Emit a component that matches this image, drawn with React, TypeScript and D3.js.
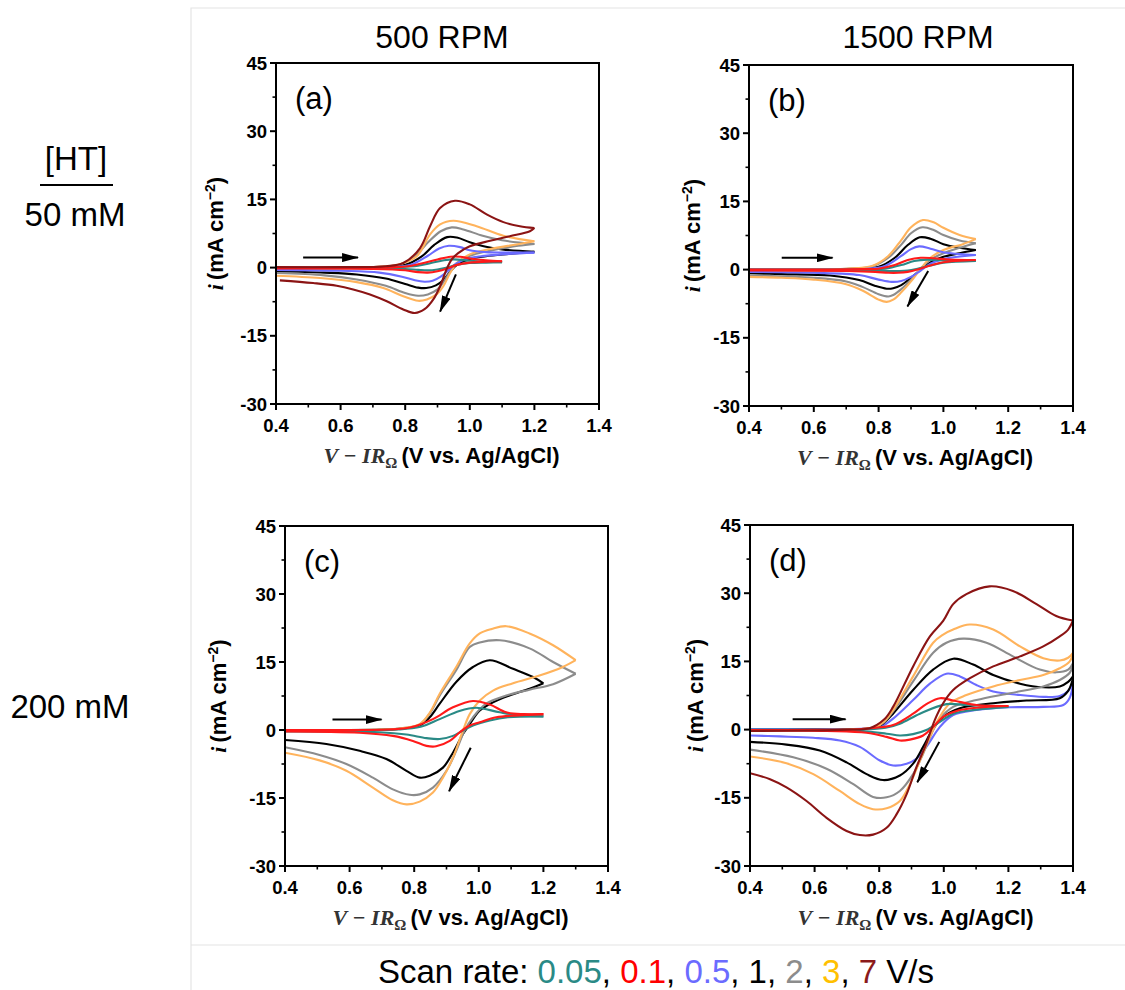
import React from "react";
import * as d3 from "d3";

type Pt = [number, number];

// ---------- labels / categories ----------
const scanRates = ["0.05", "0.1", "0.5", "1", "2", "3", "7"];
const curveColors = ["#2a8a86", "#ff1a1a", "#6b6bff", "#000000", "#8c8c8c", "#ffb35c", "#8b1414"];
const legendColors = ["#2a8a86", "#ff0000", "#6b6bff", "#000000", "#8c8c8c", "#ffc000", "#8b1a1a"];
const xTicks = [0.4, 0.6, 0.8, 1.0, 1.2, 1.4];
const xMinor = [0.5, 0.7, 0.9, 1.1, 1.3];
const yTicks = [-30, -15, 0, 15, 30, 45];
const yMinor = [-22.5, -7.5, 7.5, 22.5, 37.5];
const panelLabels = ["(a)", "(b)", "(c)", "(d)"];
const columnTitles = ["500 RPM", "1500 RPM"];
const rowLabels = ["50 mM", "200 mM"];

// ---------- Panel (a): 500 RPM, 50 mM  (forward f / reverse r) ----------
const A005f: Pt[] = [[0.4,0],[0.6,0],[0.78,0.1],[0.84,0.4],[0.88,1.0],[0.92,1.6],[0.95,1.8],[1.0,1.5],[1.05,1.3],[1.1,1.2]];
const A005r: Pt[] = [[1.1,1.2],[1.05,1.1],[1.0,1.0],[0.96,0.6],[0.93,0.0],[0.9,-0.4],[0.87,-0.6],[0.84,-0.5],[0.8,-0.3],[0.7,-0.15],[0.4,-0.1]];
const A01f: Pt[] = [[0.4,0],[0.6,0],[0.76,0.1],[0.81,0.3],[0.85,0.9],[0.9,1.8],[0.94,2.4],[0.97,2.4],[1.0,2.0],[1.05,1.6],[1.1,1.4]];
const A01r: Pt[] = [[1.1,1.4],[1.05,1.3],[1.0,1.1],[0.96,0.6],[0.93,-0.2],[0.9,-0.8],[0.87,-1.1],[0.84,-1.0],[0.8,-0.6],[0.7,-0.3],[0.4,-0.2]];
const A05f: Pt[] = [[0.4,0],[0.6,0],[0.75,0.1],[0.82,0.7],[0.87,2.6],[0.905,4.2],[0.935,4.8],[0.97,4.5],[1.0,3.8],[1.05,3.4],[1.1,3.3],[1.2,3.3]];
const A05r: Pt[] = [[1.2,3.3],[1.1,2.9],[1.0,2.1],[0.96,1.0],[0.935,-0.5],[0.91,-2.0],[0.885,-2.9],[0.86,-3.1],[0.83,-2.8],[0.79,-2.0],[0.72,-1.1],[0.6,-0.7],[0.4,-0.5]];
const A1f: Pt[] = [[0.4,0],[0.6,0],[0.72,0.1],[0.8,0.6],[0.85,2.4],[0.89,5.0],[0.93,6.7],[0.96,6.6],[1.0,5.6],[1.05,4.6],[1.1,4.0],[1.2,3.5]];
const A1r: Pt[] = [[1.2,3.5],[1.12,3.0],[1.05,2.5],[1.0,1.9],[0.96,0.6],[0.94,-0.8],[0.92,-2.6],[0.895,-3.9],[0.865,-4.5],[0.84,-4.4],[0.8,-3.6],[0.74,-2.4],[0.65,-1.5],[0.55,-1.1],[0.4,-0.8]];
const A2f: Pt[] = [[0.4,0],[0.6,0],[0.7,0.1],[0.78,0.6],[0.83,2.5],[0.87,5.5],[0.91,8.0],[0.944,8.85],[0.98,8.4],[1.04,7.0],[1.1,6.0],[1.2,5.2]];
const A2r: Pt[] = [[1.2,5.2],[1.15,4.8],[1.07,3.8],[1.0,2.6],[0.96,1.0],[0.94,-0.8],[0.92,-3.0],[0.9,-4.8],[0.87,-5.9],[0.84,-6.2],[0.8,-5.6],[0.74,-4.0],[0.65,-2.6],[0.55,-1.7],[0.4,-1.2]];
const A3f: Pt[] = [[0.4,0],[0.6,0],[0.7,0.1],[0.78,0.7],[0.836,2.5],[0.877,7.3],[0.908,9.5],[0.949,10.3],[1.021,9.1],[1.104,7.0],[1.2,5.8]];
const A3r: Pt[] = [[1.2,5.8],[1.145,5.1],[1.063,4.1],[1.0,2.9],[0.96,1.0],[0.939,-1.2],[0.918,-4.1],[0.897,-5.9],[0.867,-7.0],[0.84,-7.3],[0.794,-6.3],[0.732,-4.5],[0.65,-3.2],[0.536,-2.3],[0.4,-1.8]];
const A7f: Pt[] = [[0.4,0.1],[0.6,0.1],[0.74,0.3],[0.794,1.0],[0.846,4.3],[0.877,9.1],[0.908,13.1],[0.954,14.7],[1.0,13.9],[1.052,11.7],[1.104,10.0],[1.155,9.1],[1.2,8.7]];
const A7r: Pt[] = [[1.2,8.7],[1.186,8.0],[1.124,6.9],[1.063,5.9],[1.0,4.7],[0.964,3.2],[0.944,1.8],[0.928,-0.4],[0.908,-4.1],[0.887,-7.0],[0.861,-9.1],[0.83,-10.0],[0.794,-9.2],[0.743,-7.4],[0.691,-5.9],[0.639,-4.8],[0.588,-4.0],[0.515,-3.4],[0.412,-2.8]];

// ---------- Panel (b): 1500 RPM, 50 mM ----------
const B005f: Pt[] = [[0.4,0],[0.6,0],[0.78,0.1],[0.82,0.2],[0.87,1.0],[0.91,1.9],[0.95,2.2],[1.0,2.0],[1.1,1.9]];
const B005r: Pt[] = [[1.1,1.9],[1.0,1.5],[0.96,0.9],[0.92,0.2],[0.89,-0.2],[0.86,-0.3],[0.83,-0.3],[0.7,-0.15],[0.4,-0.1]];
const B01f: Pt[] = [[0.4,0],[0.6,0],[0.76,0.1],[0.8,0.2],[0.85,1.0],[0.89,2.1],[0.93,2.6],[0.97,2.5],[1.02,2.2],[1.1,2.1]];
const B01r: Pt[] = [[1.1,2.1],[1.0,1.6],[0.96,0.9],[0.92,0.0],[0.89,-0.5],[0.86,-0.7],[0.83,-0.7],[0.79,-0.5],[0.7,-0.3],[0.4,-0.2]];
const B05f: Pt[] = [[0.4,0],[0.6,0],[0.75,0.1],[0.82,0.8],[0.87,3.0],[0.9,4.5],[0.925,5.1],[0.96,4.6],[1.0,3.8],[1.05,3.4],[1.1,3.2]];
const B05r: Pt[] = [[1.1,3.2],[1.0,2.3],[0.96,1.3],[0.93,-0.2],[0.9,-1.6],[0.87,-2.5],[0.84,-2.7],[0.8,-2.2],[0.74,-1.2],[0.6,-0.7],[0.4,-0.5]];
const B1f: Pt[] = [[0.4,0],[0.6,0],[0.72,0.1],[0.8,0.6],[0.85,2.6],[0.89,5.4],[0.927,7.1],[0.96,6.8],[1.0,5.6],[1.05,4.8],[1.1,4.3]];
const B1r: Pt[] = [[1.1,4.3],[1.05,3.6],[1.0,2.8],[0.96,1.6],[0.93,0.0],[0.9,-1.8],[0.87,-3.4],[0.845,-4.1],[0.825,-4.2],[0.79,-3.6],[0.74,-2.3],[0.65,-1.3],[0.5,-1.0],[0.4,-0.8]];
const B2f: Pt[] = [[0.4,0],[0.6,0],[0.7,0.2],[0.78,0.7],[0.83,2.6],[0.87,5.5],[0.9,8.0],[0.935,9.3],[0.97,8.7],[1.0,7.6],[1.05,6.4],[1.1,5.8]];
const B2r: Pt[] = [[1.1,5.8],[1.05,4.8],[1.0,3.6],[0.96,2.2],[0.93,0.2],[0.9,-2.2],[0.87,-4.3],[0.845,-5.6],[0.83,-5.9],[0.8,-5.4],[0.75,-3.8],[0.7,-2.6],[0.6,-1.8],[0.4,-1.3]];
const B3f: Pt[] = [[0.4,0],[0.6,0.1],[0.7,0.2],[0.78,0.8],[0.83,3.0],[0.87,6.5],[0.9,9.3],[0.937,10.9],[0.97,10.4],[1.0,9.2],[1.05,7.6],[1.1,6.7]];
const B3r: Pt[] = [[1.1,6.7],[1.06,5.6],[1.0,4.3],[0.96,2.6],[0.93,0.2],[0.9,-2.6],[0.87,-5.0],[0.845,-6.6],[0.825,-7.1],[0.8,-6.6],[0.75,-4.6],[0.7,-3.2],[0.6,-2.2],[0.5,-1.8],[0.4,-1.6]];

// ---------- Panel (c): 500 RPM, 200 mM ----------
const C005f: Pt[] = [[0.4,0],[0.6,0],[0.75,0.1],[0.82,0.7],[0.879,2.4],[0.94,4.2],[0.992,4.9],[1.065,3.9],[1.13,3.2],[1.2,3.0]];
const C005r: Pt[] = [[1.2,3.0],[1.09,2.8],[1.034,2.1],[0.982,1.0],[0.951,-0.1],[0.92,-1.3],[0.879,-2.0],[0.838,-1.8],[0.776,-1.0],[0.693,-0.5],[0.4,-0.3]];
const C01f: Pt[] = [[0.4,0],[0.6,0],[0.72,0.1],[0.79,0.6],[0.858,2.4],[0.92,5.0],[0.982,6.4],[1.034,5.6],[1.085,3.9],[1.14,3.5],[1.2,3.5]];
const C01r: Pt[] = [[1.2,3.5],[1.142,3.3],[1.054,2.8],[1.003,1.7],[0.972,1.0],[0.941,-0.5],[0.91,-2.4],[0.868,-3.6],[0.838,-3.5],[0.796,-2.4],[0.734,-1.3],[0.631,-0.6],[0.4,-0.3]];
const C1f: Pt[] = [[0.4,0],[0.6,0],[0.7,0.1],[0.76,0.3],[0.817,1.0],[0.848,2.8],[0.879,5.8],[0.93,10.6],[0.982,13.9],[1.034,15.4],[1.106,13.5],[1.168,11.7],[1.2,10.3]];
const C1r: Pt[] = [[1.2,10.3],[1.157,9.1],[1.095,7.6],[1.044,6.1],[1.003,4.3],[0.972,1.3],[0.951,-0.9],[0.92,-5.0],[0.889,-8.3],[0.848,-10.1],[0.817,-10.5],[0.776,-9.0],[0.714,-6.4],[0.631,-4.6],[0.528,-3.1],[0.4,-2.2]];
const C2f: Pt[] = [[0.4,0],[0.6,0],[0.7,0.1],[0.76,0.4],[0.817,1.2],[0.848,3.6],[0.879,7.6],[0.93,13.2],[0.972,18.3],[1.003,19.3],[1.065,19.8],[1.157,18.0],[1.23,15.0],[1.3,12.4]];
const C2r: Pt[] = [[1.3,12.4],[1.23,10.1],[1.157,8.9],[1.085,7.6],[1.023,5.8],[0.982,2.8],[0.956,-0.1],[0.93,-4.6],[0.9,-9.0],[0.858,-12.7],[0.817,-14.2],[0.786,-14.3],[0.734,-13.1],[0.672,-10.5],[0.59,-7.5],[0.507,-5.5],[0.4,-3.8]];
const C3f: Pt[] = [[0.4,0],[0.6,0],[0.7,0.1],[0.76,0.4],[0.817,1.3],[0.848,3.8],[0.879,8.0],[0.93,13.9],[0.972,19.1],[1.003,21.3],[1.04,22.3],[1.085,22.9],[1.157,21.3],[1.23,18.7],[1.3,15.4]];
const C3r: Pt[] = [[1.3,15.4],[1.26,13.9],[1.188,12.0],[1.106,10.3],[1.044,8.7],[1.003,6.5],[0.972,3.5],[0.951,-0.1],[0.92,-6.1],[0.889,-10.5],[0.858,-13.8],[0.817,-15.8],[0.776,-16.4],[0.734,-15.5],[0.672,-12.7],[0.59,-9.0],[0.507,-6.7],[0.4,-5.0]];

// ---------- Panel (d): 1500 RPM, 200 mM ----------
const D005f: Pt[] = [[0.4,0],[0.6,0],[0.75,0],[0.82,0.4],[0.864,1.3],[0.926,3.5],[1.008,5.6],[1.07,5.4],[1.2,5.0]];
const D005r: Pt[] = [[1.2,5.0],[1.101,4.4],[1.029,3.5],[0.988,1.7],[0.946,-0.1],[0.905,-1.0],[0.864,-1.3],[0.823,-0.9],[0.74,-0.3],[0.4,-0.1]];
const D01f: Pt[] = [[0.4,-0.1],[0.6,-0.05],[0.72,0],[0.79,0.4],[0.843,1.0],[0.905,3.5],[0.946,5.6],[0.988,6.9],[1.029,6.4],[1.101,5.4],[1.2,5.2]];
const D01r: Pt[] = [[1.2,5.2],[1.153,5.1],[1.05,4.3],[0.998,2.8],[0.967,0.6],[0.936,-1.3],[0.895,-2.2],[0.864,-2.4],[0.823,-1.6],[0.761,-0.7],[0.637,-0.3],[0.4,-0.1]];
const D05f: Pt[] = [[0.4,0.1],[0.6,0.1],[0.7,0.1],[0.79,0.4],[0.815,1.0],[0.843,2.4],[0.905,6.5],[0.957,10.1],[1.008,12.3],[1.05,11.7],[1.101,9.8],[1.153,8.4],[1.236,7.6],[1.308,7.2],[1.359,7.4],[1.385,8.5],[1.4,10.6]];
const D05r: Pt[] = [[1.4,10.2],[1.39,7.0],[1.37,5.4],[1.308,5.0],[1.205,4.9],[1.101,4.3],[1.029,3.2],[0.988,0.6],[0.946,-3.8],[0.915,-6.4],[0.885,-7.5],[0.843,-7.9],[0.802,-6.8],[0.74,-3.8],[0.678,-2.4],[0.596,-1.8],[0.493,-1.5],[0.4,-1.3]];
const D1f: Pt[] = [[0.4,-0.1],[0.6,-0.05],[0.7,0],[0.79,0.5],[0.815,1.5],[0.843,3.5],[0.905,8.7],[0.967,13.2],[1.029,15.6],[1.091,14.3],[1.153,12.0],[1.236,10.1],[1.308,9.3],[1.359,9.5],[1.385,10.5],[1.4,11.7]];
const D1r: Pt[] = [[1.4,11.3],[1.385,8.5],[1.359,6.9],[1.256,6.4],[1.153,5.8],[1.05,4.7],[0.998,2.8],[0.967,0.2],[0.936,-3.8],[0.905,-7.5],[0.864,-10.1],[0.812,-11.1],[0.761,-9.8],[0.699,-7.2],[0.616,-4.6],[0.513,-3.3],[0.4,-2.7]];
const D2f: Pt[] = [[0.4,-0.2],[0.6,-0.1],[0.7,0],[0.79,0.5],[0.815,1.6],[0.843,4.0],[0.905,10.6],[0.967,16.9],[1.008,19.1],[1.06,20.0],[1.132,19.1],[1.214,16.1],[1.297,13.2],[1.348,12.6],[1.385,13.2],[1.4,14.6]];
const D2r: Pt[] = [[1.4,14.2],[1.39,12.5],[1.359,10.9],[1.308,9.5],[1.205,8.0],[1.101,6.5],[1.029,5.0],[0.988,2.4],[0.962,-0.9],[0.936,-5.3],[0.905,-9.8],[0.864,-13.5],[0.823,-14.9],[0.781,-14.8],[0.72,-12.0],[0.637,-8.6],[0.534,-6.1],[0.4,-4.4]];
const D3f: Pt[] = [[0.4,-0.2],[0.6,-0.1],[0.7,0],[0.79,0.6],[0.815,1.8],[0.843,4.3],[0.905,11.7],[0.967,19.1],[0.998,20.9],[1.029,22.0],[1.08,23.1],[1.153,22.0],[1.236,18.3],[1.308,15.7],[1.359,15.2],[1.385,15.8],[1.4,16.9]];
const D3r: Pt[] = [[1.4,16.9],[1.39,15.0],[1.359,13.5],[1.308,12.0],[1.236,10.9],[1.153,9.5],[1.07,7.6],[1.019,5.8],[0.982,2.1],[0.957,-1.6],[0.926,-6.8],[0.895,-12.0],[0.864,-15.7],[0.823,-17.3],[0.781,-17.5],[0.74,-16.4],[0.678,-13.5],[0.596,-9.8],[0.513,-7.4],[0.4,-5.9]];
const D7f: Pt[] = [[0.4,-0.3],[0.6,-0.2],[0.7,0],[0.77,0.3],[0.815,2.2],[0.843,5.0],[0.905,13.9],[0.957,20.5],[0.998,23.9],[1.029,27.6],[1.07,29.8],[1.142,31.5],[1.214,30.5],[1.287,27.6],[1.348,25.0],[1.4,24.0]];
const D7r: Pt[] = [[1.4,24.0],[1.385,22.0],[1.359,20.5],[1.308,18.3],[1.236,16.1],[1.153,13.9],[1.081,11.3],[1.029,8.7],[0.998,5.8],[0.972,2.1],[0.946,-3.1],[0.915,-8.3],[0.885,-14.2],[0.854,-18.6],[0.823,-21.6],[0.781,-23.1],[0.74,-23.2],[0.699,-22.3],[0.637,-19.4],[0.575,-15.7],[0.513,-12.7],[0.462,-10.9],[0.4,-9.6]];

// ---------- scan-direction arrows (data coordinates) ----------
const arrowsA: Pt[][] = [[[0.484,2.2],[0.654,2.2]],[[0.957,-1.5],[0.908,-9.7]]];
const arrowsB: Pt[][] = [[[0.501,2.6],[0.658,2.6]],[[0.953,-0.3],[0.889,-8.1]]];
const arrowsC: Pt[][] = [[[0.547,2.3],[0.699,2.3]],[[0.975,-3.9],[0.908,-13.5]]];
const arrowsD: Pt[][] = [[[0.532,2.3],[0.696,2.3]],[[0.986,-2.7],[0.918,-11.6]]];

type Series = { rate: number; f: Pt[]; r: Pt[] };
// draw order within each panel
const seriesA: Series[] = [
  { rate: 3, f: A1f, r: A1r }, { rate: 4, f: A2f, r: A2r }, { rate: 5, f: A3f, r: A3r },
  { rate: 2, f: A05f, r: A05r }, { rate: 0, f: A005f, r: A005r }, { rate: 1, f: A01f, r: A01r },
  { rate: 6, f: A7f, r: A7r },
];
const seriesB: Series[] = [
  { rate: 3, f: B1f, r: B1r }, { rate: 4, f: B2f, r: B2r }, { rate: 5, f: B3f, r: B3r },
  { rate: 2, f: B05f, r: B05r }, { rate: 0, f: B005f, r: B005r }, { rate: 1, f: B01f, r: B01r },
];
const seriesC: Series[] = [
  { rate: 3, f: C1f, r: C1r }, { rate: 4, f: C2f, r: C2r }, { rate: 5, f: C3f, r: C3r },
  { rate: 0, f: C005f, r: C005r }, { rate: 1, f: C01f, r: C01r },
];
const seriesD: Series[] = [
  { rate: 2, f: D05f, r: D05r }, { rate: 3, f: D1f, r: D1r }, { rate: 4, f: D2f, r: D2r },
  { rate: 5, f: D3f, r: D3r }, { rate: 0, f: D005f, r: D005r }, { rate: 1, f: D01f, r: D01r },
  { rate: 6, f: D7f, r: D7r },
];

const SANS = "'Liberation Sans', Arial, Helvetica, sans-serif";
const SERIF = "'Liberation Serif', 'Times New Roman', serif";

const panels = [
  { id: "a", label: panelLabels[0], series: seriesA, arrows: arrowsA, box: { l: 276, r: 599, t: 63, b: 404 }, yl: -53 },
  { id: "b", label: panelLabels[1], series: seriesB, arrows: arrowsB, box: { l: 749, r: 1073, t: 65, b: 406 }, yl: -49 },
  { id: "c", label: panelLabels[2], series: seriesC, arrows: arrowsC, box: { l: 285, r: 608, t: 526, b: 866 }, yl: -59 },
  { id: "d", label: panelLabels[3], series: seriesD, arrows: arrowsD, box: { l: 750, r: 1073, t: 525, b: 866 }, yl: -47 },
];

function Panel({ p }: { p: (typeof panels)[number] }) {
  const { l, r, t, b } = p.box;
  const x = d3.scaleLinear().domain([0.4, 1.4]).range([l, r]);
  const y = d3.scaleLinear().domain([-30, 45]).range([b, t]);
  const line = d3
    .line<Pt>()
    .x((d) => x(d[0]))
    .y((d) => y(d[1]))
    .curve(d3.curveCatmullRom.alpha(0.5));
  const asc = (arr: Pt[]) => [...arr].sort((m, n) => m[0] - n[0]);
  const cx = (l + r) / 2;
  const cy = (t + b) / 2;
  return (
    <g>
      <defs>
        <clipPath id={`clip-${p.id}`}>
          <rect x={l} y={t} width={r - l} height={b - t} />
        </clipPath>
      </defs>
      <g clipPath={`url(#clip-${p.id})`}>
        {p.series.map((s, i) => (
          <g key={i} fill="none" stroke={curveColors[s.rate]} strokeWidth={2.1} strokeLinejoin="round">
            <path d={line(asc(s.f)) || ""} />
            <path d={line(asc(s.r)) || ""} />
          </g>
        ))}
      </g>
      {p.arrows.map((a, i) => (
        <line
          key={i}
          x1={x(a[0][0])}
          y1={y(a[0][1])}
          x2={x(a[1][0])}
          y2={y(a[1][1])}
          stroke="#000"
          strokeWidth={2}
          markerEnd="url(#arrowhead)"
        />
      ))}
      {/* frame */}
      <rect x={l} y={t} width={r - l} height={b - t} fill="none" stroke="#000" strokeWidth={2} />
      {/* x ticks */}
      {xTicks.map((v) => (
        <g key={`xt${v}`}>
          <line x1={x(v)} x2={x(v)} y1={b} y2={b + 6} stroke="#000" strokeWidth={2} />
          <text x={x(v)} y={b + 28} textAnchor="middle" fontFamily={SANS} fontWeight="bold" fontSize={18.5}>
            {v.toFixed(1)}
          </text>
        </g>
      ))}
      {xMinor.map((v) => (
        <line key={`xm${v}`} x1={x(v)} x2={x(v)} y1={b} y2={b + 3.5} stroke="#000" strokeWidth={1.6} />
      ))}
      {/* y ticks */}
      {yTicks.map((v) => (
        <g key={`yt${v}`}>
          <line x1={l - 6} x2={l} y1={y(v)} y2={y(v)} stroke="#000" strokeWidth={2} />
          <text x={l - 9} y={y(v) + 6.5} textAnchor="end" fontFamily={SANS} fontWeight="bold" fontSize={18.5}>
            {v}
          </text>
        </g>
      ))}
      {yMinor.map((v) => (
        <line key={`ym${v}`} x1={l - 3.5} x2={l} y1={y(v)} y2={y(v)} stroke="#000" strokeWidth={1.6} />
      ))}
      {/* panel label */}
      <text x={l + 19} y={t + 46} fontFamily={SANS} fontSize={31}>
        {p.label}
      </text>
      {/* y axis title */}
      <text
        transform={`translate(${l + p.yl},${cy}) rotate(-90)`}
        textAnchor="middle"
        fontFamily={SANS}
        fontWeight="bold"
        fontSize={22}
      >
        <tspan fontFamily={SERIF} fontStyle="italic">i</tspan>
        <tspan dx={4}>(mA cm</tspan>
        <tspan dy={-8} fontSize={14}>−2</tspan>
        <tspan dy={8}>)</tspan>
      </text>
      {/* x axis title */}
      <text x={cx + 4} y={b + 59} textAnchor="middle" fontSize={22} fontWeight="bold">
        <tspan fontFamily={SERIF} fontStyle="italic" fill="#333">V − IR</tspan>
        <tspan fontFamily={SERIF} fill="#333" fontSize={15} dy={5}>Ω</tspan>
        <tspan fontFamily={SANS} dy={-5} dx={4}>(V vs. Ag/AgCl)</tspan>
      </text>
    </g>
  );
}

export default function App() {
  return (
    <svg
      width={1125}
      height={990}
      viewBox="0 0 1125 990"
      style={{ position: "absolute", left: 0, top: 0, background: "#fff", display: "block" }}
    >
      <defs>
        <marker
          id="arrowhead"
          viewBox="0 0 17 9"
          refX={16}
          refY={4.5}
          markerWidth={17}
          markerHeight={9}
          markerUnits="userSpaceOnUse"
          orient="auto"
        >
          <path d="M0,0 L17,4.5 L0,9 z" fill="#000" />
        </marker>
      </defs>
      <rect x={0} y={0} width={1125} height={990} fill="#fff" />
      {/* faint figure border */}
      <path d="M191,990 L191,8 L1125,8 M191,945 L1125,945" fill="none" stroke="#e4e4e4" strokeWidth={1.2} />

      {/* column titles */}
      <text x={442} y={48} textAnchor="middle" fontFamily={SANS} fontSize={32}>{columnTitles[0]}</text>
      <text x={918} y={48} textAnchor="middle" fontFamily={SANS} fontSize={32}>{columnTitles[1]}</text>

      {/* row labels */}
      <text x={76} y={170} textAnchor="middle" fontFamily={SANS} fontSize={33}>[HT]</text>
      <line x1={40} x2={113} y1={185} y2={185} stroke="#000" strokeWidth={2} />
      <text x={75} y={226} textAnchor="middle" fontFamily={SANS} fontSize={33}>{rowLabels[0]}</text>
      <text x={70} y={718} textAnchor="middle" fontFamily={SANS} fontSize={33}>{rowLabels[1]}</text>

      {panels.map((p) => (
        <Panel key={p.id} p={p} />
      ))}

      {/* scan-rate legend */}
      <text x={378} y={983} fontFamily={SANS} fontSize={33}>
        <tspan>Scan rate: </tspan>
        {scanRates.map((s, i) => (
          <React.Fragment key={s}>
            <tspan fill={legendColors[i]}>{s}</tspan>
            <tspan fill="#000">{i < scanRates.length - 1 ? ", " : " V/s"}</tspan>
          </React.Fragment>
        ))}
      </text>
    </svg>
  );
}
